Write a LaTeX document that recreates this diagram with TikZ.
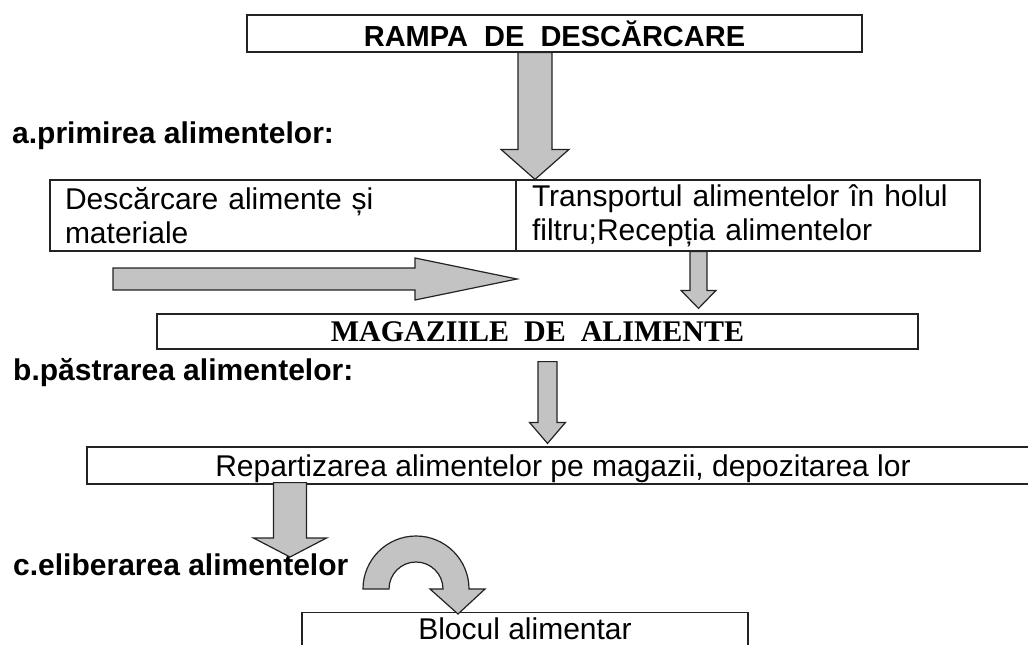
\documentclass[tikz,border=0pt]{standalone}
\usepackage{fontspec}
\setmainfont{Liberation Sans}
\newfontfamily\serifbf{Liberation Serif}
\usetikzlibrary{calc}

\definecolor{grisflecha}{RGB}{195,195,195}
\definecolor{borde}{RGB}{35,35,35}

\tikzset{
  caja/.style={draw=borde, line width=1.2pt, rectangle, inner sep=0pt,
    font=\fontsize{30}{34}\selectfont},
  etiqueta/.style={inner sep=0pt, anchor=base west,
    font=\fontsize{30}{34}\selectfont\bfseries},
  flecha/.style={draw=borde, line width=1.2pt, fill=grisflecha, line join=miter},
}

% flecha gruesa hacia abajo: desde, hasta, medio cuerpo, media punta, largo punta
\newcommand{\flechaabajo}[5]{%
  \draw[flecha] let \p1=(#1), \p2=(#2) in
    (\x1-#3pt,\y1) -- (\x1+#3pt,\y1) -- (\x1+#3pt,\y2+#5pt) -- (\x1+#4pt,\y2+#5pt)
    -- (\x1,\y2) -- (\x1-#4pt,\y2+#5pt) -- (\x1-#3pt,\y2+#5pt) -- cycle;}

% flecha gruesa hacia la derecha
\newcommand{\flechaderecha}[5]{%
  \draw[flecha] let \p1=(#1), \p2=(#2) in
    (\x1,\y1+#3pt) -- (\x2-#5pt,\y1+#3pt) -- (\x2-#5pt,\y1+#4pt) -- (\x2,\y1)
    -- (\x2-#5pt,\y1-#4pt) -- (\x2-#5pt,\y1-#3pt) -- (\x1,\y1-#3pt) -- cycle;}

\begin{document}
\begin{tikzpicture}[x=1pt, y=-1pt]
  \useasboundingbox (0,0) rectangle (1028,645);

  % Cajas
  \node[caja, minimum width=615pt, minimum height=37pt,
    font=\fontsize{29}{34}\selectfont\bfseries] (rampa) at (554.5,33.5)
    {RAMPA\ \ DE\ \ DESCĂRCARE};
  \node[caja, text width=436pt, inner xsep=15pt, minimum height=71pt, align=left]
    (descarcare) at (283,215.5) {Descărcare alimente și\\materiale};
  \node[caja, text width=432pt, inner xsep=16pt, minimum height=71pt, align=left]
    (transporte) at (748,215.5) {Transportul alimentelor în holul\\filtru;Recepția alimentelor};
  \node[caja, minimum width=761pt, minimum height=35pt,
    font=\serifbf\bfseries\fontsize{30}{34}\selectfont] (magazii) at (537.5,331.5)
    {MAGAZIILE\ \ DE\ \ ALIMENTE};
  \node[caja, minimum width=952pt, minimum height=37pt, text depth=0pt]
    (repartizare) at (563,465.5)
    {Repartizarea alimentelor pe magazii, depozitarea lor};
  \node[caja, minimum width=446pt, inner ysep=5pt, text depth=12pt, anchor=north]
    (bloc) at (525,612) {Blocul alimentar};

  % Etiquetas
  \node[etiqueta] (primire) at (12,143) {a.primirea alimentelor:};
  \node[etiqueta] (pastrare) at (13,380) {b.păstrarea alimentelor:};
  \node[etiqueta] (eliberare) at (13,575) {c.eliberarea alimentelor};

  % Puntos de las flechas
  \coordinate (f1a) at ([xshift=-19.5pt]rampa.south);
  \coordinate (f1b) at (f1a |- transporte.north);
  \coordinate (f2a) at ([xshift=-49.5pt]transporte.south);
  \coordinate (f2b) at ([yshift=5pt]f2a |- magazii.north);
  \coordinate (f3a) at ([xshift=10pt,yshift=-12pt]magazii.south);
  \coordinate (f3b) at ([yshift=3pt]f3a |- repartizare.north);
  \coordinate (f4a) at ([xshift=-273pt,yshift=2pt]repartizare.south);
  \coordinate (f4b) at (290,557);
  \coordinate (h1) at (113,279);
  \coordinate (h2) at (517,279);

  % Flechas
  \flechaabajo{f1a}{f1b}{17}{34}{30}
  \flechaderecha{h1}{h2}{11}{21}{102}
  \flechaabajo{f2a}{f2b}{8.5}{17.5}{18}
  \flechaabajo{f3a}{f3b}{9.5}{18}{21}
  \flechaabajo{f4a}{f4b}{16.5}{36.5}{19}
  \draw[flecha] (363,589) arc[start angle=180, end angle=360, radius=53]
    -- (485,589) -- (458,614) -- (430,589) -- (443,589)
    arc[start angle=360, end angle=180, radius=27] -- cycle;
\end{tikzpicture}
\end{document}
